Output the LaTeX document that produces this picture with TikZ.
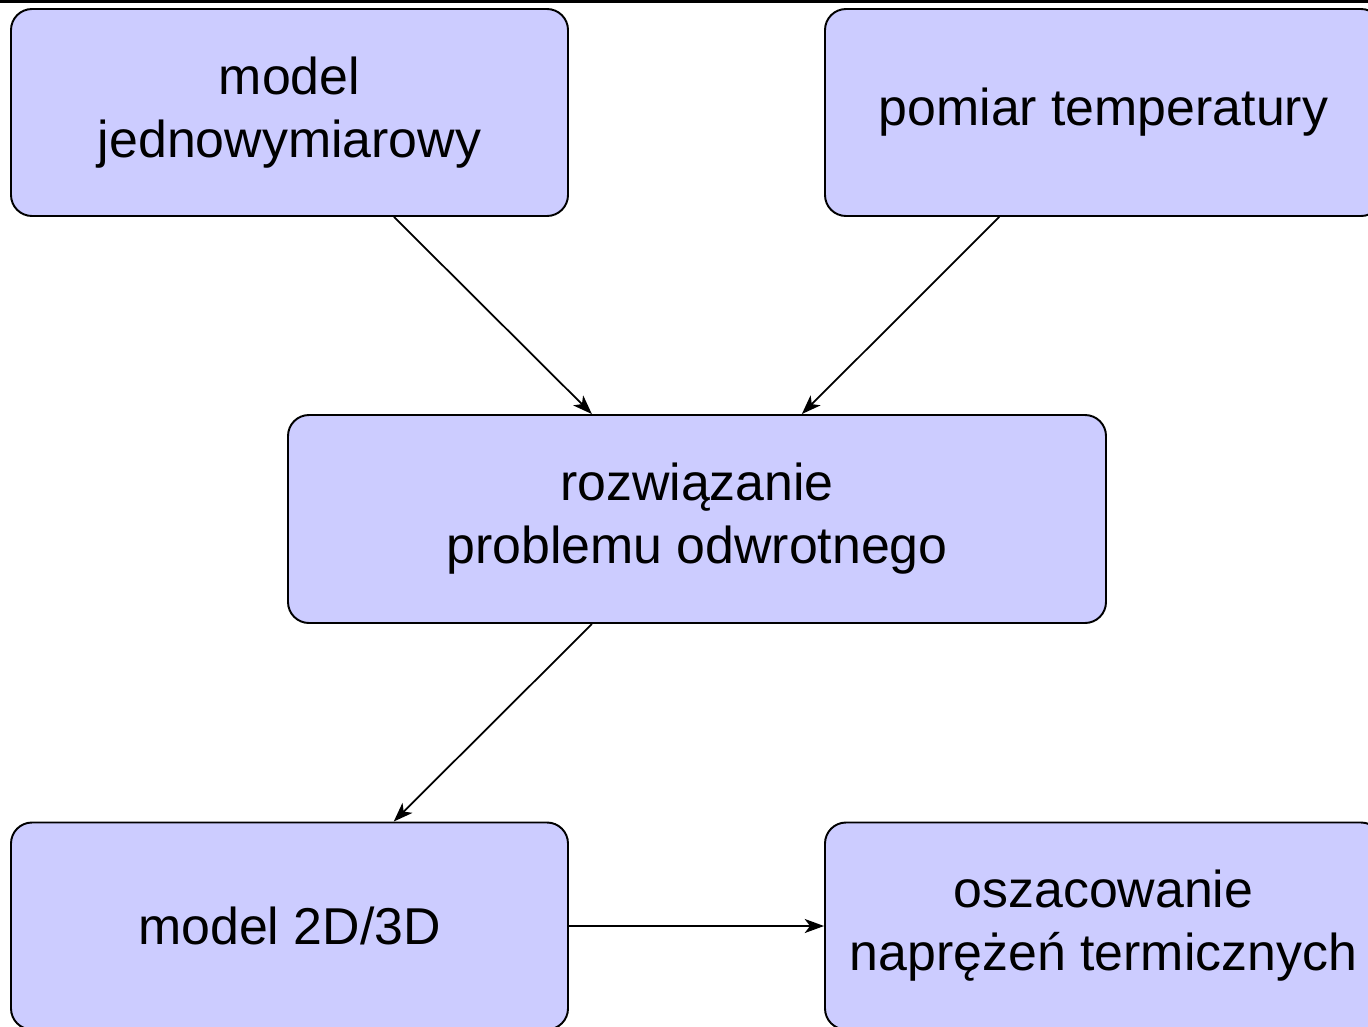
\documentclass[tikz,border=0pt]{standalone}
\usepackage{fontspec}
\setmainfont{Liberation Sans}
\usetikzlibrary{positioning}
\usetikzlibrary{arrows.meta}
\definecolor{boxblue}{RGB}{204,204,255}

\begin{document}
\begin{tikzpicture}[>={Stealth[length=11pt,width=8pt,inset=3pt]},
box/.style={draw, line width=1.1pt, fill=boxblue, rounded corners=0.42cm, align=center,
  minimum width=11.14cm, minimum height=4.14cm, font=\fontsize{29.5}{35.9}\selectfont},
wide/.style={box, minimum width=16.36cm, minimum height=4.16cm},
link/.style={->, line width=1pt}]

\useasboundingbox (0,0) rectangle (27.36,-20.52);
\fill[black] (0,0) rectangle (27.36,-0.05);

% boxes
\node [box] (jedno) at (5.79,-2.25) {model\\jednowymiarowy};
\node [box] (pomiar) at (22.07,-2.25) {pomiar temperatury};
\node [wide] (odwr) at (13.94,-10.38) {rozwiązanie\\problemu odwrotnego};
\node [box] (model) at (5.79,-18.52) {model 2D/3D};
\node [box] (napr) at (22.07,-18.52) {oszacowanie\\naprężeń termicznych};

% arrows
\draw [link] (jedno) -- (odwr);
\draw [link] (pomiar) -- (odwr);
\draw [link] (odwr) -- (model);
\draw [link] (model) -- (napr);

\end{tikzpicture}
\end{document}
